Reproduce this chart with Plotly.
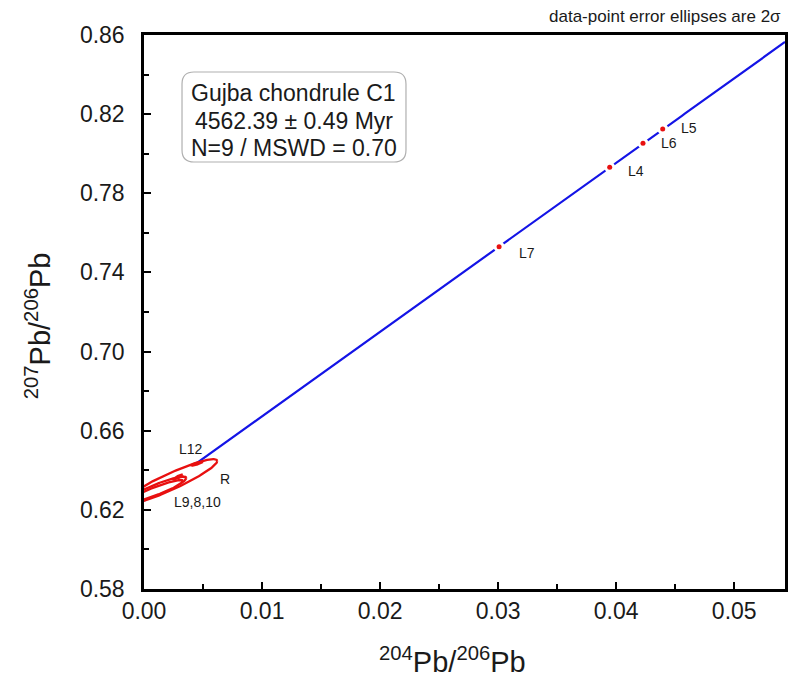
import numpy as np
import plotly.graph_objects as go

# ---- data ----
# isochron
iso_intercept = 0.6246
iso_slope = 4.27
x_max = 0.0543

# small (precise) analyses
pt_names = ["L7", "L4", "L6", "L5"]
pt_x = [0.03008, 0.03945, 0.04227, 0.04394]
pt_y = [0.7530, 0.7931, 0.8053, 0.8125]

# large error-ellipse analyses: centre, 2-sigma half widths, correlation
ell_names = ["R", "L9", "L8", "L10", "L12"]
ell_cx = [0.0022, 0.0012, 0.0010, 0.00288, 0.00449]
ell_cy = [0.6341, 0.6307, 0.6295, 0.6366, 0.6434]
ell_sx = [0.0040, 0.0024, 0.0023, 0.0004, 0.0005]
ell_sy = [0.0115, 0.00604, 0.00557, 0.0012, 0.0010]
ell_rho = [0.92, 0.894, 0.919, 0.90, 0.87]

x_ticks = [0.00, 0.01, 0.02, 0.03, 0.04, 0.05]
y_ticks = [0.58, 0.62, 0.66, 0.70, 0.74, 0.78, 0.82, 0.86]

info_lines = ["Gujba chondrule C1", "4562.39 ± 0.49 Myr", "N=9 / MSWD = 0.70"]

RED = "rgb(232,16,16)"
BLUE = "rgb(20,20,230)"
TXT = "#1a1a1a"
FONT = "Liberation Sans, Arial, sans-serif"

fig = go.Figure()

# isochron line
lx = np.linspace(0, x_max, 200)
fig.add_trace(go.Scatter(x=lx, y=iso_intercept + iso_slope * lx, mode="lines",
                         line=dict(color=BLUE, width=2.2), hoverinfo="skip"))

# ellipses (white filled, red outline)
t = np.linspace(0, 2 * np.pi, 200)
for cx, cy, sx, sy, r in zip(ell_cx, ell_cy, ell_sx, ell_sy, ell_rho):
    ex = cx + sx * np.cos(t)
    ey = cy + sy * (r * np.cos(t) + np.sqrt(1 - r * r) * np.sin(t))
    fig.add_trace(go.Scatter(x=ex, y=ey, mode="lines", fill="toself",
                             fillcolor="white", line=dict(color=RED, width=2.3),
                             hoverinfo="skip"))

# small points: white halo then red dot
fig.add_trace(go.Scatter(x=pt_x, y=pt_y, mode="markers",
                         marker=dict(color="white", size=11), hoverinfo="skip"))
fig.add_trace(go.Scatter(x=pt_x, y=pt_y, mode="markers",
                         marker=dict(color=RED, size=5), hoverinfo="skip"))

LBL = dict(family=FONT, size=14, color=TXT)
ann = []
pt_shift = {"L7": (28, -6), "L4": (26, -4), "L6": (26, 0), "L5": (26, 1)}
for n, x, y in zip(pt_names, pt_x, pt_y):
    dx, dy = pt_shift[n]
    ann.append(dict(x=x, y=y, xref="x", yref="y", text=n, showarrow=False,
                    xshift=dx, yshift=dy, font=LBL))

# ellipse labels
ann.append(dict(x=ell_cx[4], y=ell_cy[4], text="L12", showarrow=False, xshift=-6, yshift=15,
                font=LBL))
ann.append(dict(x=ell_cx[0], y=ell_cy[0], text="R", showarrow=False, xshift=55, yshift=3,
                font=LBL))
ann.append(dict(x=ell_cx[1], y=ell_cy[1], text="L9,8,10", showarrow=False, xshift=39, yshift=-13,
                font=LBL))

# info box text
for line, yp in zip(info_lines, [0.8953, 0.8448, 0.7960]):
    ann.append(dict(x=0.234, y=yp, xref="paper", yref="paper", text=line, showarrow=False,
                    xanchor="center", yanchor="middle",
                    font=dict(family=FONT, size=23, color=TXT)))

# note
ann.append(dict(x=0.9969, y=1.0325, xref="paper", yref="paper",
                text="data-point error ellipses are 2σ", showarrow=False,
                xanchor="right", yanchor="middle", font=dict(family=FONT, size=17, color=TXT)))

# axis titles
ann.append(dict(x=0.482, y=-0.128, xref="paper", yref="paper",
                text="<sup>204</sup>Pb/<sup>206</sup>Pb", showarrow=False,
                xanchor="center", yanchor="middle", font=dict(family=FONT, size=29, color=TXT)))
ann.append(dict(x=-0.165, y=0.4747, xref="paper", yref="paper", textangle=-90,
                text="<sup>207</sup>Pb/<sup>206</sup>Pb", showarrow=False,
                xanchor="center", yanchor="middle", font=dict(family=FONT, size=29, color=TXT)))

# rounded box in paper coords
x0, x1, y0, y1 = 0.0593, 0.4087, 0.7708, 0.9332
rx, ry = 0.0187, 0.0217
path = (f"M {x0+rx},{y0} L {x1-rx},{y0} Q {x1},{y0} {x1},{y0+ry} "
        f"L {x1},{y1-ry} Q {x1},{y1} {x1-rx},{y1} L {x0+rx},{y1} "
        f"Q {x0},{y1} {x0},{y1-ry} L {x0},{y0+ry} Q {x0},{y0} {x0+rx},{y0} Z")

fig.update_layout(
    width=800, height=685,
    margin=dict(l=136, r=23, t=27, b=104),
    paper_bgcolor="white", plot_bgcolor="white",
    showlegend=False,
    annotations=ann,
    shapes=[dict(type="path", path=path, xref="paper", yref="paper",
                 line=dict(color="#b0b0b0", width=1.2), fillcolor="white", layer="below")],
    font=dict(family=FONT, color=TXT),
)
fig.update_xaxes(range=[0, x_max], tickmode="array", tickvals=x_ticks,
                 ticktext=[f"{v:.2f}" for v in x_ticks],
                 ticks="inside", ticklen=7, tickwidth=2, tickcolor="black",
                 minor=dict(ticks="inside", ticklen=5, tickwidth=2, tickcolor="black",
                            tickmode="array",
                            tickvals=[0.005, 0.015, 0.025, 0.035, 0.045]),
                 showline=True, linewidth=2.5, linecolor="black", mirror=True,
                 showgrid=False, zeroline=False,
                 tickfont=dict(family=FONT, size=23, color=TXT))
fig.update_yaxes(range=[0.58, 0.86], tickmode="array", tickvals=y_ticks,
                 ticktext=[f"{v:.2f}" for v in y_ticks],
                 ticks="inside", ticklen=7, tickwidth=2, tickcolor="black",
                 minor=dict(ticks="inside", ticklen=5, tickwidth=2, tickcolor="black",
                            tickmode="array",
                            tickvals=[0.60, 0.64, 0.68, 0.72, 0.76, 0.80, 0.84]),
                 showline=True, linewidth=2.5, linecolor="black", mirror=True,
                 showgrid=False, zeroline=False, ticklabelstandoff=12,
                 tickfont=dict(family=FONT, size=23, color=TXT))

fig.write_html("out.html")
